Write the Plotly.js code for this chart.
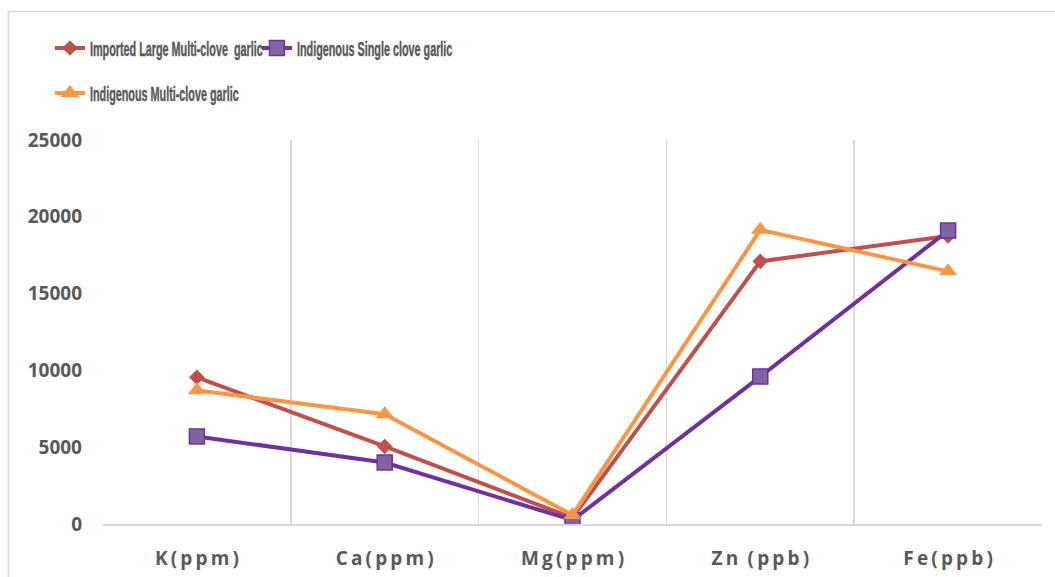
<!DOCTYPE html>
<html>
<head>
<meta charset="utf-8">
<script src="https://cdn.plot.ly/plotly-3.0.1.min.js"></script>
<style>html,body{margin:0;padding:0;background:#fff;}#chart{width:1055px;height:577px;}</style>
</head>
<body>
<div id="chart"></div>
<script>
const categories = ["K(ppm)", "Ca(ppm)", "Mg(ppm)", "Zn (ppb)", "Fe(ppb)"];
const importedLarge = [9550, 5050, 400, 17100, 18750];
const indigenousSingle = [5700, 4000, 250, 9600, 19100];
const indigenousMulti = [8700, 7150, 580, 19150, 16450];
const seriesNames = ["Imported Large Multi-clove\u00a0 garlic", "Indigenous Single clove garlic", "Indigenous Multi-clove garlic"];
const yTicks = [0, 5000, 10000, 15000, 20000, 25000];

const spaced = s => s.split("").filter(c => c !== " ").join("\u2009").replace("n\u2009(", "n\u2009\u2009\u2009(");
const tickText = categories.map(spaced);

const traces = [
  {x: categories, y: importedLarge, name: seriesNames[0], type: "scatter", mode: "lines+markers",
   line: {color: "#C0504D", width: 4}, marker: {symbol: "diamond", size: 12, color: "#C0504D"}, legend: "legend"},
  {x: categories, y: indigenousSingle, name: seriesNames[1], type: "scatter", mode: "lines+markers",
   line: {color: "#7030A0", width: 4}, marker: {symbol: "square", size: 15, color: "#8064A2", line: {color: "#7030A0", width: 1.5}}, legend: "legend"},
  {x: categories, y: indigenousMulti, name: seriesNames[2], type: "scatter", mode: "lines+markers",
   line: {color: "#F79646", width: 4}, marker: {symbol: "triangle-up", size: 16, color: "#F79646"}, legend: "legend2"}
];

const legendFont = {family: "Liberation Sans, Arial, sans-serif", size: 20, color: "#595959", weight: "bold"};

const layout = {
  width: 1055, height: 577,
  margin: {l: 103, r: 13, t: 140, b: 53},
  paper_bgcolor: "#fff", plot_bgcolor: "#fff",
  showlegend: true,
  legend: {orientation: "h", x: -0.0565, xanchor: "left", y: 1.2396, yanchor: "middle", font: legendFont, bgcolor: "rgba(0,0,0,0)"},
  legend2: {orientation: "h", x: -0.0565, xanchor: "left", y: 1.1224, yanchor: "middle", font: legendFont, bgcolor: "rgba(0,0,0,0)"},
  xaxis: {
    type: "category", range: [-0.5, 4.5], tickson: "boundaries",
    tickvals: categories, ticktext: tickText,
    showgrid: true, gridcolor: "#D9D9D9", gridwidth: 1.5,
    showline: true, linecolor: "#D9D9D9", linewidth: 2,
    ticks: "", ticklabelstandoff: 16,
    tickfont: {family: "Open Sans, sans-serif", size: 19, color: "#595959", weight: "bold"},
    zeroline: false, fixedrange: true
  },
  yaxis: {
    range: [0, 25000], tickvals: yTicks, ticktext: yTicks.map(String),
    showgrid: false, showline: false, zeroline: false,
    ticks: "", ticklabelstandoff: 20,
    tickfont: {family: "Open Sans, sans-serif", size: 19, color: "#595959", weight: "bold"},
    fixedrange: true
  },
  shapes: [
    {type: "rect", xref: "paper", yref: "paper", x0: -0.1007, x1: 1.02, y0: -0.2, y1: 1.3346,
     line: {color: "#D9D9D9", width: 1.5}, fillcolor: "rgba(0,0,0,0)", layer: "below"}
  ]
};

// condense legend text to mimic the narrow legend face of the original
const CONDENSE = 0.54;
function condenseLegend(gd) {
  gd.querySelectorAll("text.legendtext, text.legend2text").forEach(t => {
    if (!t.dataset.natural) {
      t.removeAttribute("textLength");
      t.dataset.natural = t.getComputedTextLength();
    }
    const want = (parseFloat(t.dataset.natural) * CONDENSE).toFixed(1);
    if (t.getAttribute("textLength") !== want) {
      t.setAttribute("textLength", want);
      t.setAttribute("lengthAdjust", "spacingAndGlyphs");
      t.style.stroke = "#595959";
      t.style.strokeWidth = "0.45px";
    }
  });
  const leg = gd.querySelector("g.legend");
  if (!leg) return;
  const items = leg.querySelectorAll("g.traces");
  if (items.length > 1) {
    const re = /translate\(([-\d.]+)[ ,]+([-\d.]+)\)/;
    const m = re.exec(items[0].getAttribute("transform"));
    const m2 = re.exec(items[1].getAttribute("transform"));
    if (m && m2) {
      const want = `translate(${parseFloat(m[1]) + 207},${m2[2]})`;
      if (items[1].getAttribute("transform") !== want) items[1].setAttribute("transform", want);
    }
  }
}

const gdEl = document.getElementById("chart");
const obs = new MutationObserver(() => condenseLegend(gdEl));
obs.observe(gdEl, {childList: true, subtree: true, attributes: true, attributeFilter: ["transform"]});

Plotly.newPlot(gdEl, traces, layout, {displayModeBar: false, staticPlot: true}).then(gd => {
  condenseLegend(gd);
});
</script>
</body>
</html>
